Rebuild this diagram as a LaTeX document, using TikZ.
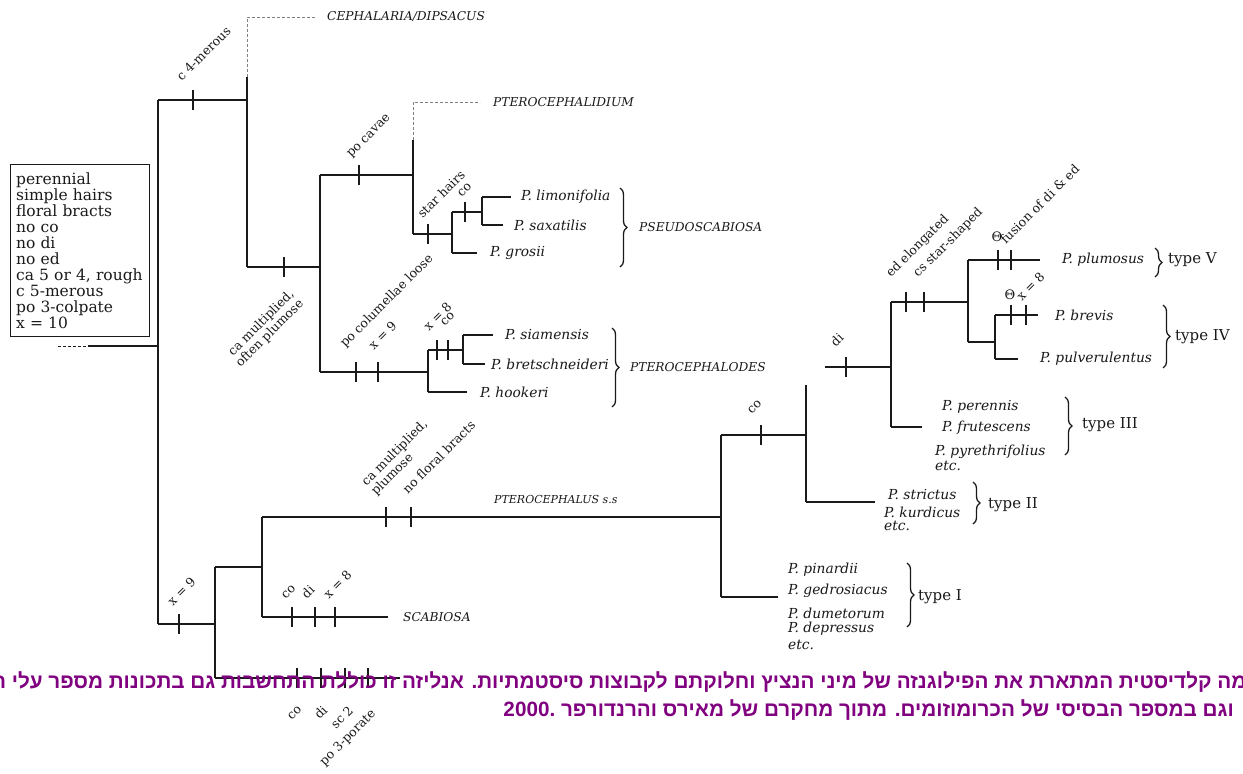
\documentclass[tikz,border=0pt]{standalone}
\usepackage{fontspec}
\setmainfont{DejaVu Serif}
\newfontfamily\hebfont[Script=Hebrew]{Liberation Sans}
\TeXXeTstate=1
\usetikzlibrary{decorations.pathreplacing}
\definecolor{ink}{HTML}{1A1A1A}
\definecolor{capcol}{HTML}{800080}
\newcommand\tk[2]{\draw[tickmk] (#1,#2-10) -- (#1,#2+10);}
\begin{document}
\begin{tikzpicture}[x=1pt,y=-1pt,
  br/.style={line width=1.5pt, draw=ink},
  tickmk/.style={line width=2.8pt, draw=ink},
  dsh/.style={line width=0.8pt, draw=gray, dash pattern=on 3pt off 2pt},
  lab/.style={font=\fontsize{12.5}{13.5}\selectfont, rotate=45, anchor=south west, inner sep=0pt, text=ink},
  labb/.style={font=\fontsize{12.5}{13.5}\selectfont, rotate=45, anchor=east, inner sep=0pt, text=ink, align=right},
  sp/.style={font=\fontsize{13.8}{15}\selectfont\itshape, anchor=west, inner sep=0pt, text=ink},
  grp/.style={font=\fontsize{12.2}{14}\selectfont\itshape, anchor=west, inner sep=0pt, text=ink},
  typ/.style={font=\fontsize{15}{16}\selectfont, anchor=west, inner sep=0pt, text=ink},
  brc/.style={decorate, decoration={brace, amplitude=7pt}, line width=1.3pt, draw=ink},
  capt/.style={font=\hebfont\bfseries\fontsize{20.7}{24}\selectfont, text=capcol, inner sep=0pt, anchor=east}
]
\path[use as bounding box, fill=white] (0,0) rectangle (1243,774);
\clip (0,0) rectangle (1243,774);

% character box
\node[draw=ink, line width=1.2pt, anchor=north west, minimum height=172pt, text width=128pt, inner xsep=5.5pt,
  align=left, font=\fontsize{15.5}{16}\selectfont, text=ink] (box) at (10,164)
  {perennial\\simple hairs\\floral bracts\\no co\\no di\\no ed\\ca 5 or 4, rough\\c 5-merous\\po 3-colpate\\x = 10};

% root
\coordinate (r0) at (58,346); \coordinate (r1) at (88,346); \coordinate (r) at (158,346);
\draw[dsh, draw=ink] (r0) -- (r1);
\draw[br] (r1) -- (r);
\draw[br] (158,100) -- (158,624);

% Cephalaria branch
\draw[br] (158,100) -- (247,100); \tk{193}{100}
\node[lab] (l1) at (182,82) {c 4-merous};
\draw[dsh] (247,77) -- (247,17) -- (315,17);
\node[grp] (ceph) at (327,17) {CEPHALARIA/DIPSACUS};
\draw[br] (247,77) -- (247,267);
\draw[br] (247,267) -- (320,267); \tk{284}{267}
\node[labb] (l2) at (297,297) {ca multiplied,\\often plumose};
\draw[br] (320,175) -- (320,372);

% Pterocephalidium / Pseudoscabiosa
\draw[br] (320,175) -- (413,175); \tk{359}{175}
\node[lab] (l3) at (353,160) {po cavae};
\draw[dsh] (413,140) -- (413,102) -- (480,102);
\node[grp] (ptd) at (493,102) {PTEROCEPHALIDIUM};
\draw[br] (413,140) -- (413,234);
\draw[br] (413,234) -- (452,234); \tk{428}{234}
\node[lab] (l4) at (423,219) {star hairs};
\draw[br] (452,212) -- (452,253);
\draw[br] (452,212) -- (482,212); \tk{465}{212}
\node[lab] (l5) at (462,198) {co};
\draw[br] (452,253) -- (477,253);
\node[sp] (grosii) at (490,253) {P. grosii};
\draw[br] (482,197) -- (482,225);
\draw[br] (482,197) -- (511,197);
\node[sp] (limo) at (521,197) {P. limonifolia};
\draw[br] (482,225) -- (503,225);
\node[sp] (saxa) at (514,225) {P. saxatilis};
\draw[brc] (620,188) -- (620,267);
\node[grp] (pseudo) at (639,227) {PSEUDOSCABIOSA};

% Pterocephalodes
\draw[br] (320,372) -- (428,372); \tk{356}{372} \tk{378}{372}
\node[lab] (l6) at (347,350) {po columellae loose};
\node[lab] (l7) at (374,351) {x = 9};
\draw[br] (428,350) -- (428,392);
\draw[br] (428,350) -- (463,350); \tk{437}{350} \tk{448}{350}
\node[lab] (l8) at (429,332) {x = 8};
\node[lab] (l9) at (445,327) {co};
\draw[br] (428,392) -- (467,392);
\node[sp] (hook) at (480,392) {P. hookeri};
\draw[br] (463,335) -- (463,364);
\draw[br] (463,335) -- (493,335);
\node[sp] (siam) at (505,335) {P. siamensis};
\draw[br] (463,364) -- (485,364);
\node[sp] (bret) at (491,364) {P. bretschneideri};
\draw[brc] (612,328) -- (612,407);
\node[grp] (ptds) at (630,367) {PTEROCEPHALODES};

% lower clade
\draw[br] (158,624) -- (215,624); \tk{179}{624}
\node[lab] (l10) at (173,607) {x = 9};
\draw[br] (215,567) -- (215,678);
\draw[br] (215,567) -- (262,567);
\draw[br] (262,517) -- (262,617);
\draw[br] (262,617) -- (388,617); \tk{292}{617} \tk{315}{617} \tk{335}{617}
\node[lab] (l11) at (286,600) {co};
\node[lab] (l12) at (307,600) {di};
\node[lab] (l13) at (329,600) {x = 8};
\node[grp] (scab) at (403,617) {SCABIOSA};
\draw[br] (215,678) -- (400,678); \tk{297}{678} \tk{321}{678} \tk{345}{678} \tk{368}{678}
\node[labb] (l14) at (300,708) {co};
\node[labb] (l15) at (325,708) {di};
\node[labb] (l16) at (351,708) {sc 2};
\node[labb] (l17) at (374,712) {po 3-porate};

% Pterocephalus s.s.
\draw[br] (262,517) -- (721,517); \tk{386}{517} \tk{411}{517}
\node[lab, align=left] (l18) at (378,498) {ca multiplied,\\plumose};
\node[lab] (l19) at (408,495) {no floral bracts};
\node[grp, font=\fontsize{11}{13}\selectfont\itshape] (ptss) at (494,499) {PTEROCEPHALUS s.s};
\draw[br] (721,435) -- (721,597);
\draw[br] (721,435) -- (806,435); \tk{761}{435}
\node[lab] (l20) at (752,415) {co};
\draw[br] (806,385) -- (806,502);
\draw[br] (806,502) -- (875,502);
\node[sp] (stri) at (888,495) {P. strictus};
\node[sp] (kurd) at (884,512) {P. kurdicus};
\node[sp] (etc2) at (884,526) {etc.};
\draw[brc] (973,482) -- (973,524);
\node[typ] (t2) at (988,505) {type II};
\draw[br] (721,597) -- (778,597);
\node[sp] (pina) at (788,570) {P. pinardii};
\node[sp] (gedr) at (788,591) {P. gedrosiacus};
\node[sp] (dume) at (788,613) {P. dumetorum};
\node[sp] (depr) at (788,629) {P. depressus};
\node[sp] (etc1) at (788,645) {etc.};
\draw[brc] (907,563) -- (907,627);
\node[typ] (t1) at (918,597) {type I};

% di clade
\draw[br] (825,367) -- (891,367); \tk{846}{367}
\node[lab] (l21) at (836,348) {di};
\draw[br] (891,302) -- (891,427);
\draw[br] (891,302) -- (968,302); \tk{906}{302} \tk{924}{302}
\node[lab] (l22) at (893,280) {ed elongated};
\node[lab] (l23) at (920,280) {cs star-shaped};
\draw[br] (891,427) -- (922,427);
\node[sp] (pere) at (942,407) {P. perennis};
\node[sp] (frut) at (942,428) {P. frutescens};
\node[sp] (pyre) at (935,452) {P. pyrethrifolius};
\node[sp] (etc3) at (935,466) {etc.};
\draw[brc] (1065,397) -- (1065,455);
\node[typ] (t3) at (1082,425) {type III};
\draw[br] (968,260) -- (968,342);
\draw[br] (968,260) -- (1040,260); \tk{998}{260} \tk{1011}{260}
\node[font=\fontsize{13}{14}\selectfont, inner sep=0pt, text=ink] (th1) at (997,237) {Θ};
\node[lab] (l24) at (1006,245) {fusion of di \& ed};
\node[sp] (plum) at (1062,260) {P. plumosus};
\draw[brc] (1155,248) -- (1155,277);
\node[typ] (t5) at (1168,260) {type V};
\draw[br] (968,342) -- (995,342);
\draw[br] (995,315) -- (995,359);
\draw[br] (995,315) -- (1038,315); \tk{1011}{315} \tk{1026}{315}
\node[font=\fontsize{13}{14}\selectfont, inner sep=0pt, text=ink] (th2) at (1010,295) {Θ};
\node[lab] (l25) at (1022,302) {x = 8};
\node[sp] (brev) at (1055,315) {P. brevis};
\draw[br] (995,359) -- (1018,359);
\node[sp] (pulv) at (1040,359) {P. pulverulentus};
\draw[brc] (1163,305) -- (1163,368);
\node[typ] (t4) at (1175,337) {type IV};

% caption
\node[capt] (cap1) at (1278,682) {\beginR סכימה קלדיסטית המתארת את הפילוגנזה של מיני הנציץ וחלוקתם לקבוצות סיסטמתיות. אנליזה זו כוללת התחשבות גם בתכונות מספר עלי ה\endR};
\node[capt] (cap2) at (1234,710) {\beginR וגם במספר הבסיסי של הכרומוזומים. מתוך מחקרם של מאירס והרנדורפר .\beginL 2000\endL\endR};
\end{tikzpicture}
\end{document}
